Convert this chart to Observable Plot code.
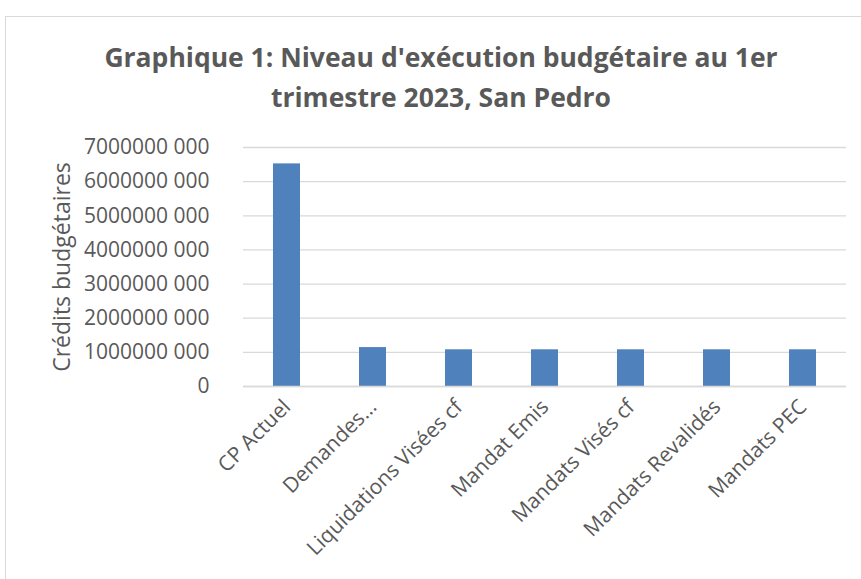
<!DOCTYPE html>
<html>
<head>
<meta charset="utf-8">
<script src="https://cdn.jsdelivr.net/npm/d3@7"></script>
<script src="https://cdn.jsdelivr.net/npm/@observablehq/plot@0.6"></script>
<style>
  html, body { margin: 0; padding: 0; background: #fff; width: 861px; height: 579px; overflow: hidden; }
  #frame { position: absolute; left: 5px; top: 16px; width: 900px; height: 600px; border-left: 1.5px solid #d9d9d9; border-top: 1.5px solid #d9d9d9; }
  #title { position: absolute; left: 5px; top: 37px; width: 872px; text-align: center; font-family: "Open Sans", sans-serif; font-weight: bold; font-size: 26.5px; line-height: 40px; color: #595959; }
  #chart { position: absolute; left: 0; top: 130px; }
</style>
</head>
<body>
<div id="frame"></div>
<div id="title">Graphique 1: Niveau d'exécution budgétaire au 1er<br>trimestre 2023, San Pedro</div>
<div id="chart"></div>
<script>
const categories = ["CP Actuel", "Demandes…", "Liquidations Visées cf", "Mandat Emis", "Mandats Visés cf", "Mandats Revalidés", "Mandats PEC"];
const values = [6520000000, 1140000000, 1075000000, 1075000000, 1075000000, 1075000000, 1075000000];
const yTicks = [0, 1000000000, 2000000000, 3000000000, 4000000000, 5000000000, 6000000000, 7000000000];
const yTickLabels = ["0", "1000000 000", "2000000 000", "3000000 000", "4000000 000", "5000000 000", "6000000 000", "7000000 000"];
const yTitle = "Crédits budgétaires";

const data = categories.map((c, i) => ({category: c, value: values[i]}));

const plot = Plot.plot({
  width: 861,
  height: 449,
  marginTop: 17,
  marginBottom: 193,
  marginLeft: 243,
  marginRight: 15,
  style: {fontFamily: "Open Sans, sans-serif", fontSize: "21px", color: "#595959", background: "transparent"},
  x: {domain: categories, paddingInner: 0.686, paddingOuter: 0.343, label: null},
  y: {domain: [0, 7000000000], label: null},
  marks: [
    Plot.gridY(yTicks, {stroke: "#d9d9d9", strokeOpacity: 1, strokeWidth: 1.3}),
    Plot.barY(data, {x: "category", y: "value", fill: "#4f81bd"}),
    Plot.axisY({ticks: yTicks, tickFormat: d => yTickLabels[yTicks.indexOf(d)], tickSize: 0, tickPadding: 34, label: null, fill: "#595959"}),
    Plot.text([yTitle], {text: d => d, frameAnchor: "left", rotate: -90, dx: -181, fontSize: 23, textAnchor: "middle", lineAnchor: "middle", fill: "#595959"}),
    Plot.axisX({tickRotate: -45, tickSize: 0, tickPadding: 17, label: null, fill: "#595959"}),
    Plot.ruleY([0], {stroke: "#d9d9d9", strokeWidth: 1.3})
  ]
});
document.getElementById("chart").appendChild(plot);
</script>
</body>
</html>
